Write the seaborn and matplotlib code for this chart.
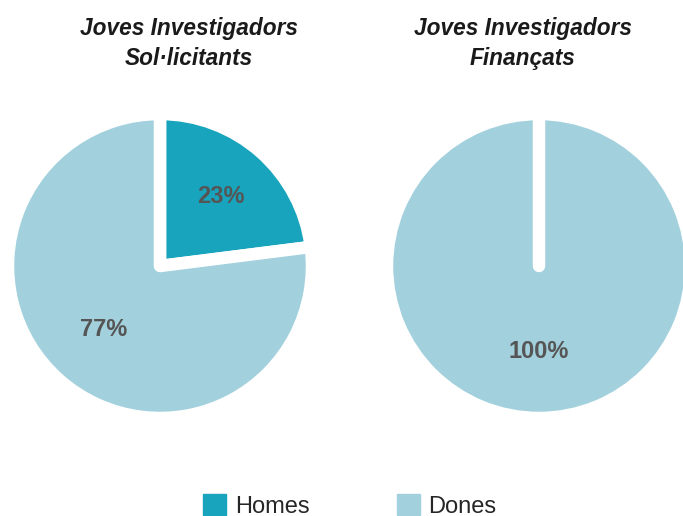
import matplotlib
matplotlib.use("Agg")
import matplotlib.pyplot as plt
import seaborn as sns

# data
categories = ["Homes", "Dones"]
sol_licitants = [23, 77]
financats = [0, 100]
titles = [["Joves Investigadors", "Sol·licitants"],
          ["Joves Investigadors", "Finançats"]]

colors = ["#17A4BC", "#A2D1DD"]

sns.set_theme(style="white")
plt.rcParams["font.family"] = ["Liberation Sans", "DejaVu Sans"]

fig = plt.figure(figsize=(6.83, 5.16), dpi=100)

W, H = 683, 516
R = 152  # outer radius incl. white stroke, px
centers = [(160, 266), (539, 266)]
title_x = [189, 523]

series = [sol_licitants, financats]
for i, vals in enumerate(series):
    cx, cy = centers[i]
    ax = fig.add_axes([(cx - R) / W, (H - cy - R) / H, 2 * R / W, 2 * R / H])
    wedges, texts, autotexts = ax.pie(
        vals, colors=colors, startangle=90, counterclock=False,
        autopct=lambda p: f"{p:.0f}%" if p > 0 else "",
        pctdistance=0.56, radius=1,
        wedgeprops=dict(edgecolor="white", linewidth=9, joinstyle="round",
                        capstyle="round"),
        textprops=dict(color="#555555", fontsize=17, fontweight="bold"))
    # keep the white outline of an empty slice visible on top
    for w, v in zip(wedges, vals):
        if v == 0:
            w.set_zorder(5)
    ax.set_xlim(-1, 1)
    ax.set_ylim(-1, 1)
    ax.set_aspect("equal")
    ax.axis("off")
    # the small slice label sits a bit further out
    if 0 < vals[0] < 50:
        x, y = autotexts[0].get_position()
        autotexts[0].set_position((x * 0.61 / 0.56, y * 0.61 / 0.56))

    fig.text(title_x[i] / W, (H - 35) / H, titles[i][0], ha="center",
             va="baseline", fontsize=16.3, fontweight="bold", style="italic",
             color="#1a1a1a")
    fig.text(title_x[i] / W, (H - 65) / H, titles[i][1], ha="center",
             va="baseline", fontsize=16.3, fontweight="bold", style="italic",
             color="#1a1a1a")

handles = [plt.Rectangle((0, 0), 1, 1, color=c) for c in colors]
fig.legend(handles, categories, loc="center", bbox_to_anchor=(0.512, (H - 506) / H),
           ncol=2, frameon=False, fontsize=17, handlelength=1.0,
           handleheight=1.0, handletextpad=0.35, columnspacing=3.7)

fig.savefig("out.png", dpi=100)
